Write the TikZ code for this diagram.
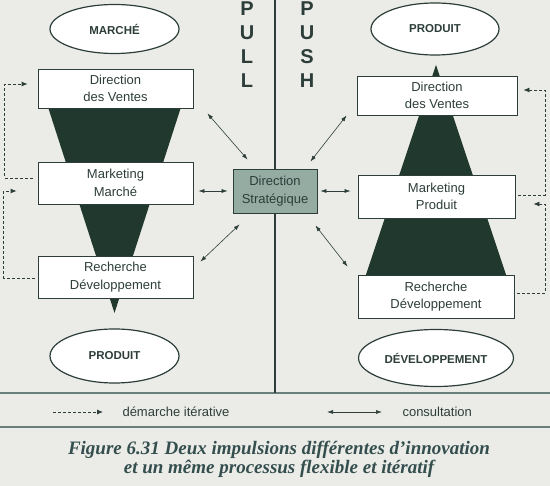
\documentclass[tikz,border=0pt]{standalone}
\usepackage{fontspec}
\setmainfont{Liberation Sans}
\newfontfamily\capfont{Liberation Serif}
\usetikzlibrary{calc, shapes, positioning, arrows.meta}

\definecolor{ink}{RGB}{45,62,58}
\definecolor{paper}{RGB}{235,236,232}
\definecolor{cone}{RGB}{32,56,46}
\definecolor{strat}{RGB}{148,172,162}
\definecolor{rule}{RGB}{105,128,122}
\definecolor{captn}{RGB}{52,78,78}

\tikzset{
  dept/.style={shape=rectangle, draw=ink, line width=0.8pt, fill=white, align=center, text=ink, font=\fontsize{13}{17.5}\selectfont},
  pole/.style={shape=ellipse, minimum width=129pt, draw=ink, line width=1.2pt, fill=white, text=ink, font=\bfseries\fontsize{11.5}{13}\selectfont},
  iter/.style={draw=ink, line width=0.8pt, dash pattern=on 3pt off 2pt, -{Latex[length=6pt,width=5pt]}},
  consult/.style={draw=ink, line width=0.6pt, {Latex[length=6pt,width=4pt]}-{Latex[length=6pt,width=4pt]}},
  word/.style={text=ink, font=\fontsize{13}{15}\selectfont}
}

\begin{document}
\begin{tikzpicture}[x=1pt, y=-1pt]
\fill[paper] (0,0) rectangle (550,486);
\useasboundingbox (0,0) rectangle (550,486);
%frame
\draw[rule, line width=1.2pt] (0,393) -- (550,393);
\draw[rule, line width=1.2pt] (0,427) -- (550,427);
\draw[ink, line width=1.6pt] (275,0) -- (275,393);
%cones
\fill[cone] (47,104) -- (182,104) -- (114.5,313) -- cycle;
\fill[cone] (436,65) -- (507.5,279) -- (364.5,279) -- cycle;
%pull side
\node[pole, minimum height=49pt] (marche) at (114.5,29) {MARCH\'E};
\node[dept, minimum width=155pt, minimum height=39pt] (dv1) at (115.5,88.5) {Direction\\des Ventes};
\node[dept, minimum width=155pt, minimum height=42pt] (mm) at (115.5,183) {Marketing\\March\'e};
\node[dept, minimum width=155pt, minimum height=42pt] (rd1) at (115.5,277) {Recherche\\D\'eveloppement};
\node[pole, minimum height=54pt] (prod1) at (114.5,356) {PRODUIT};
%push side
\node[pole, minimum height=52pt, minimum width=128pt] (prod2) at (435,29) {PRODUIT};
\node[dept, minimum width=160pt, minimum height=39pt] (dv2) at (437,95.5) {Direction\\des Ventes};
\node[dept, minimum width=157pt, minimum height=43pt] (mp) at (436.5,196.5) {Marketing\\Produit};
\node[dept, minimum width=156pt, minimum height=43pt] (rd2) at (436,296.5) {Recherche\\D\'eveloppement};
\node[pole, minimum height=57pt, minimum width=131pt] (devel) at (436,358) {D\'EVELOPPEMENT};
%centre
\node[dept, fill=strat, minimum width=84pt, minimum height=44pt] (ds) at (275,191) {Direction\\Strat\'egique};
\node[text=ink, align=center, font=\bfseries\fontsize{20}{24}\selectfont] (pull) at (247,45) {P\\U\\L\\L};
\node[text=ink, align=center, font=\bfseries\fontsize{20}{24}\selectfont] (push) at (307,45) {P\\U\\S\\H};
%% consultation
\draw[consult] ($(dv1.south east)+(14,5)$) -- ($(ds.north west)+(15,-9)$);
\draw[consult, shorten <=5pt, shorten >=5pt] (mm.east |- ds.west) -- (ds.west);
\draw[consult] ($(rd1.north east)+(7,6)$) -- ($(ds.south west)+(7,11)$);
\draw[consult] ($(dv2.south west)+(-10,0)$) -- ($(ds.north east)+(-7,-7)$);
\draw[consult, shorten <=3pt, shorten >=7pt] (ds.east) -- (mp.west |- ds.east);
\draw[consult] ($(ds.south east)+(-2,12)$) -- ($(rd2.north west)+(-10,-8)$);
%% iterations
\draw[iter] ($(mm.west)+(-5,-5)$) -- ++(-28,0) |- ($(dv1.west)+(-10,-4.5)$);
\draw[iter] ($(rd1.west)+(-3,1)$) -- ++(-31,0) |- ($(mm.west)+(-21,8)$);
\draw[iter] ($(mp.east)+(3,-1.5)$) -- ++(27,0) |- ($(dv2.east)+(6,-5.5)$);
\draw[iter] ($(rd2.east)+(3,-3.5)$) -- ++(28,0) |- ($(mp.east)+(18,7.5)$);
%legend
\coordinate (it1) at (53,412); \coordinate (it2) at (103,412);
\draw[iter] (it1) -- (it2);
\node[word, anchor=west] (itlab) at (119,412) {d\'emarche it\'erative};
\coordinate (co1) at (327,412); \coordinate (co2) at (382,412);
\draw[consult] (co1) -- (co2);
\node[word, anchor=west] (colab) at (399,412) {consultation};
%caption
\node[text=captn, align=center, font=\capfont\bfseries\itshape\fontsize{19}{19}\selectfont] (cap) at (279,459) {Figure 6.31 Deux impulsions diff\'erentes d’innovation\\et un m\^eme processus flexible et it\'eratif};
\end{tikzpicture}
\end{document}
